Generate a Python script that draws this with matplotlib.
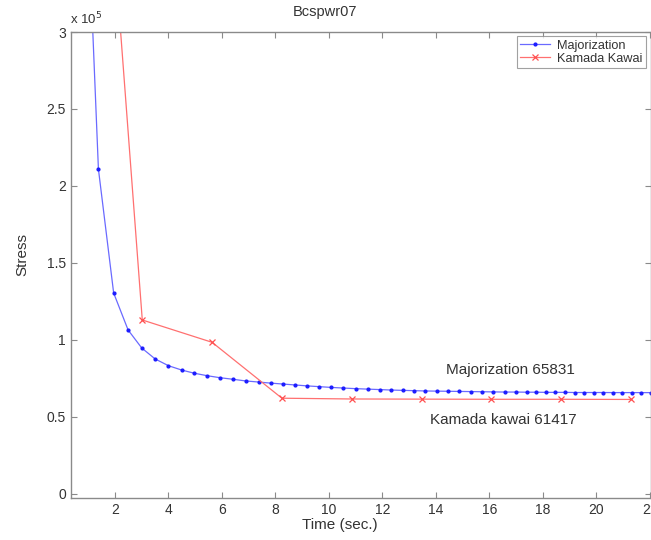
import matplotlib
matplotlib.use("Agg")
import matplotlib.pyplot as plt

plt.rcParams['font.family'] = ['Liberation Sans', 'DejaVu Sans']

# Majorization: time (sec.) vs stress (x 1e5)
maj_time = [0.85, 1.38, 1.95, 2.49, 3.00, 3.50, 4.00, 4.49, 4.97, 5.45, 5.93,
            6.41, 6.89, 7.37, 7.82, 8.28, 8.73, 9.18, 9.64, 10.09, 10.54, 11.00,
            11.45, 11.90, 12.33, 12.75, 13.18, 13.60, 14.03, 14.45, 14.87, 15.30,
            15.72, 16.14, 16.57, 16.99, 17.40, 17.75, 18.11, 18.46, 18.82, 19.18,
            19.53, 19.89, 20.24, 20.60, 20.96, 21.31, 21.67, 22.02]
maj_stress = [4.36, 2.11, 1.305, 1.065, 0.948, 0.877, 0.833, 0.805, 0.784, 0.768,
              0.755, 0.745, 0.734, 0.727, 0.720, 0.714, 0.708, 0.702, 0.697, 0.692,
              0.688, 0.684, 0.681, 0.678, 0.675, 0.673, 0.671, 0.669, 0.668, 0.667,
              0.666, 0.665, 0.664, 0.663, 0.662, 0.662, 0.661, 0.661, 0.660, 0.660,
              0.660, 0.659, 0.659, 0.659, 0.659, 0.6585, 0.6584, 0.6584, 0.6583, 0.6583]

# Kamada Kawai
kk_time = [0.41, 3.02, 5.63, 8.24, 10.85, 13.46, 16.07, 18.68, 21.29]
kk_stress = [7.16, 1.13, 0.985, 0.622, 0.617, 0.616, 0.615, 0.615, 0.614]

x_ticks = [2, 4, 6, 8, 10, 12, 14, 16, 18, 20, 22]
y_ticks = [0, 0.5, 1, 1.5, 2, 2.5, 3]
y_tick_labels = ['0', '0.5', '1', '1.5', '2', '2.5', '3']

W, H = 651, 540
fig = plt.figure(figsize=(W / 100, H / 100), dpi=100)
ax = fig.add_axes([70.7 / W, 1 - 498 / H, (650.5 - 70.7) / W, 466 / H])

ax.plot(maj_time, [v * 1e5 for v in maj_stress], color='#6a6aff', lw=0.9,
        marker='.', markersize=4, markerfacecolor='#1c1cff',
        markeredgecolor='#1c1cff', label='Majorization')
ax.plot(kk_time, [v * 1e5 for v in kk_stress], color='#ff7070', lw=0.9,
        marker='x', markersize=5, markeredgewidth=0.9, markeredgecolor='#ff5050',
        label='Kamada Kawai')

ax.set_xlim(0.344, 22.02)
ax.set_ylim(-2600, 3e5)
ax.set_xticks(x_ticks)
ax.set_yticks([v * 1e5 for v in y_ticks])
ax.set_yticklabels(y_tick_labels)

for s in ax.spines.values():
    s.set_color('#8a8a8a')
    s.set_linewidth(1.0)
ax.tick_params(direction='in', top=True, right=True, length=4, width=0.8,
               color='#8a8a8a', labelsize=10, labelcolor='#333333', pad=3.5)

leg = ax.legend(loc='upper right', fontsize=9.2, frameon=True, fancybox=False,
                borderaxespad=0.35, handlelength=2.3, borderpad=0.25,
                labelspacing=0.1, handletextpad=0.6)
leg.get_frame().set_edgecolor('#8a8a8a')
leg.get_frame().set_linewidth(0.8)
for t in leg.get_texts():
    t.set_color('#333333')

fig.text(325 / W, 1 - 12 / H, 'Bcspwr07', ha='center', va='center',
         fontsize=10.5, color='#333333')
fig.text(340 / W, 1 - 525 / H, 'Time (sec.)', ha='center', va='center',
         fontsize=11, color='#333333')
fig.text(22 / W, 1 - 255 / H, 'Stress', ha='center', va='center',
         rotation=90, fontsize=11, color='#333333')
fig.text(70 / W, 1 - 19 / H, r'x 10$^5$', ha='left', va='center',
         fontsize=9.5, color='#333333')

fig.text(510 / W, 1 - 370 / H, 'Majorization 65831', ha='center', va='center',
         fontsize=11, color='#333333')
fig.text(503 / W, 1 - 420 / H, 'Kamada kawai 61417', ha='center', va='center',
         fontsize=11, color='#333333')

fig.savefig('out.png', dpi=100)
